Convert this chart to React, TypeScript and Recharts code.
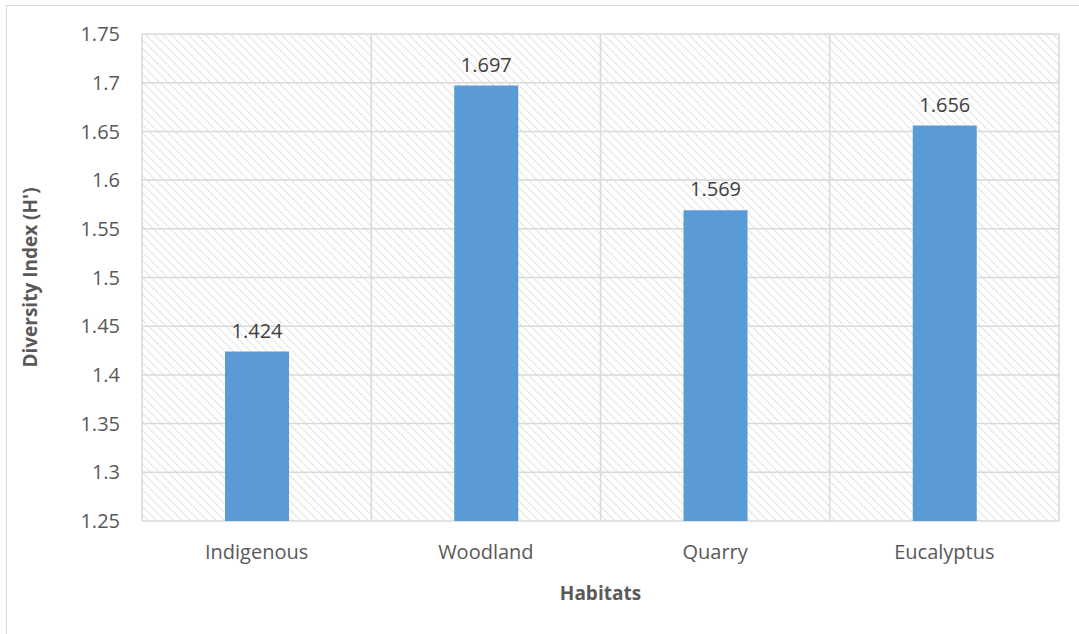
import { BarChart, Bar, XAxis, YAxis, CartesianGrid, LabelList } from "recharts";

const habitats = ["Indigenous", "Woodland", "Quarry", "Eucalyptus"];
const diversity = [1.424, 1.697, 1.569, 1.656];
const yTicks = [1.25, 1.3, 1.35, 1.4, 1.45, 1.5, 1.55, 1.6, 1.65, 1.7, 1.75];

const FONT = "'Open Sans', 'Liberation Sans', sans-serif";

const App = () => {
  const data = habitats.map((name, i) => ({ name, value: diversity[i] }));

  return (
    <div style={{ position: "absolute", left: 0, top: 0, width: 1079, height: 634, background: "#fff", overflow: "hidden", fontFamily: FONT }}>
      {/* outer chart frame */}
      <div style={{ position: "absolute", left: 6, top: 5, width: 1100, height: 700, borderTop: "1.5px solid #d9d9d9", borderLeft: "1.5px solid #d9d9d9" }} />
      <svg width={0} height={0} style={{ position: "absolute" }}>
        <defs>
          <pattern id="hatch" width={6} height={6} patternUnits="userSpaceOnUse" patternTransform="rotate(-45)">
            <rect width={6} height={6} fill="#fff" />
            <line x1={0} y1={0} x2={0} y2={6} stroke="#d4d4d4" strokeWidth={2.2} strokeDasharray="1.6 1.2" />
          </pattern>
        </defs>
      </svg>
      <div style={{ position: "absolute", left: 0, top: 0 }}>
        <BarChart width={1079} height={634} data={data} margin={{ top: 34, right: 20, bottom: 0, left: 0 }} barCategoryGap={0}>
          <CartesianGrid
            stroke="#d9d9d9"
            strokeWidth={1.5}
            fill="url(#hatch)"
            fillOpacity={1}
            verticalCoordinatesGenerator={({ offset }: any) =>
              [0, 1, 2, 3, 4].map((i) => offset.left + (i * offset.width) / 4)
            }
          />
          <XAxis
            dataKey="name"
            axisLine={false}
            tickLine={false}
            height={113}
            tickMargin={18}
            tick={{ fill: "#595959", fontSize: 20, fontFamily: FONT }}
            label={{ value: "Habitats", position: "insideBottom", offset: 34, fill: "#595959", fontSize: 19, fontWeight: "bold", fontFamily: FONT }}
          />
          <YAxis
            domain={[1.25, 1.75]}
            ticks={yTicks}
            interval={0}
            axisLine={false}
            tickLine={false}
            width={142}
            tickMargin={16}
            tickFormatter={(v: number) => String(Number(v.toFixed(2)))}
            tick={{ fill: "#595959", fontSize: 20, fontFamily: FONT }}
            label={{ value: "Diversity Index (H')", angle: -90, position: "insideLeft", offset: 30, style: { textAnchor: "middle" }, fill: "#595959", fontSize: 19, fontWeight: "bold", fontFamily: FONT }}
          />
          <Bar dataKey="value" fill="#5b9bd5" barSize={64} isAnimationActive={false}>
            <LabelList dataKey="value" position="top" offset={14} fill="#404040" fontSize={20} fontFamily={FONT} formatter={(v: any) => Number(v).toFixed(3)} />
          </Bar>
        </BarChart>
      </div>
    </div>
  );
};

export default App;
